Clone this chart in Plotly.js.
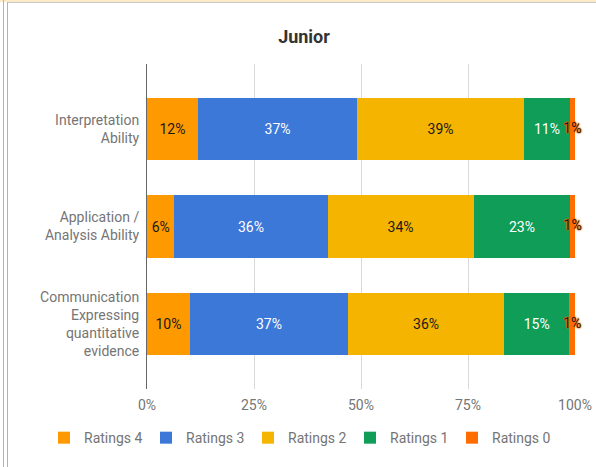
<!DOCTYPE html>
<html>
<head>
<meta charset="utf-8">
<script src="https://cdn.plot.ly/plotly-3.0.1.min.js"></script>
<style>
  html, body { margin: 0; padding: 0; background: #fff; }
  #wrap { position: relative; width: 596px; height: 467px; overflow: hidden; }
  #chart { width: 596px; height: 467px; }
  .fr { position: absolute; pointer-events: none; }
</style>
</head>
<body>
<div id="wrap">
  <div id="chart"></div>
  <div class="fr" style="left:0;top:0;width:596px;height:2px;background:#fcebc6;"></div>
  <div class="fr" style="left:8px;top:2px;width:588px;height:1px;background:#c8c8c8;"></div>
  <div class="fr" style="left:3px;top:0;width:1px;height:467px;background:#b4b4b4;"></div>
  <div class="fr" style="left:7px;top:2px;width:1px;height:465px;background:#b4b4b4;"></div>
</div>
<script>
// Data (percent of responses)
const categories = [
  "Interpretation<br>Ability",
  "Application /<br>Analysis Ability",
  "Communication<br>Expressing<br>quantitative<br>evidence"
];
const seriesNames = ["Ratings 4", "Ratings 3", "Ratings 2", "Ratings 1", "Ratings 0"];
const ratings4 = [11.9, 6.4, 10.0];
const ratings3 = [37.2, 35.8, 37.0];
const ratings2 = [39.0, 34.1, 36.4];
const ratings1 = [10.7, 22.6, 15.3];
const ratings0 = [1.2, 1.1, 1.3];
const xTickVals = [0, 25, 50, 75, 100];
const xTickText = ["0%", "25%", "50%", "75%", "100%"];

const colors = ["#ff9900", "#3c78d8", "#f4b400", "#0f9d58", "#ff6d01"];
const textColors = ["#1a1a1a", "#ffffff", "#1a1a1a", "#ffffff", "#1a1a1a"];
const seriesValues = [ratings4, ratings3, ratings2, ratings1, ratings0];
const FONT = "Roboto, sans-serif";

const traces = seriesValues.map((vals, i) => ({
  type: "bar",
  orientation: "h",
  name: seriesNames[i],
  y: categories,
  x: vals,
  marker: { color: colors[i], line: { width: 0 } },
  texttemplate: i === 4 ? "" : "%{x:.0f}%",
  textposition: i === 4 ? "none" : "inside",
  insidetextanchor: "middle",
  textfont: { family: FONT, size: 14, color: textColors[i] },
  hoverinfo: "skip"
}));

// Labels for the thin last segment, centred on that segment
const lastCenters = categories.map((c, k) =>
  ratings4[k] + ratings3[k] + ratings2[k] + ratings1[k] + ratings0[k] / 2);
traces.push({
  type: "scatter",
  mode: "text",
  x: lastCenters,
  y: categories,
  text: ratings0.map(v => Math.round(v) + "%"),
  textposition: "middle center",
  textfont: {
    family: FONT, size: 14, color: "#1a1a1a",
    shadow: "0 0 2px #ff6d01, 0 0 2px #ff6d01, 0 0 1px #ff6d01, 0 0 1px #ff6d01"
  },
  showlegend: false,
  hoverinfo: "skip",
  cliponaxis: false
});

const layout = {
  width: 596,
  height: 467,
  margin: { l: 147, r: 21, t: 64, b: 78, pad: 0 },
  paper_bgcolor: "#ffffff",
  plot_bgcolor: "#ffffff",
  font: { family: FONT, size: 14, color: "#757575" },
  title: {
    text: "<b>Junior</b>",
    font: { family: FONT, size: 18, color: "#333333" },
    x: 304 / 596, xref: "container", xanchor: "center",
    y: (467 - 37) / 467, yref: "container", yanchor: "middle"
  },
  barmode: "stack",
  bargap: 0.354,
  showlegend: true,
  legend: {
    orientation: "h",
    x: (44 - 147) / 428, xanchor: "left",
    y: -0.151, yanchor: "middle",
    entrywidth: 57,
    entrywidthmode: "pixels",
    font: { family: FONT, size: 14, color: "#757575" },
    traceorder: "normal",
    itemclick: false
  },
  xaxis: {
    range: [0, 100],
    tickvals: xTickVals,
    ticktext: xTickText,
    showgrid: true,
    gridcolor: "#d9d9d9",
    gridwidth: 1,
    zeroline: false,
    showline: false,
    ticks: "",
    ticklabelstandoff: 6,
    tickfont: { family: FONT, size: 14, color: "#757575" },
    fixedrange: true
  },
  yaxis: {
    type: "category",
    range: [2.6667, -0.6667],
    autorange: false,
    showgrid: false,
    zeroline: false,
    showline: true,
    linecolor: "#666666",
    linewidth: 1,
    ticks: "",
    ticklabelstandoff: 4,
    tickfont: { family: FONT, size: 14, color: "#757575" },
    fixedrange: true
  }
};

Plotly.newPlot("chart", traces, layout, { displayModeBar: false, staticPlot: true });
</script>
</body>
</html>
